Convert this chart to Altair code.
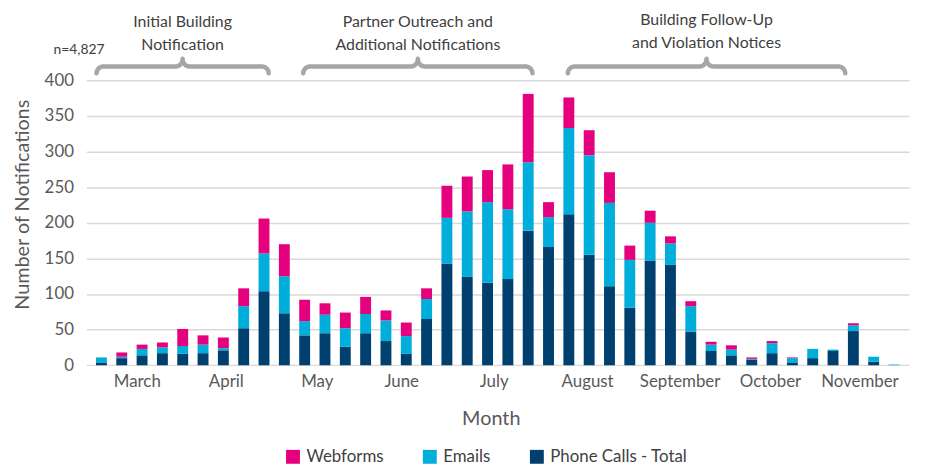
import math
import altair as alt
import pandas as pd

# ---- data (weekly notifications) ----
weeks = list(range(1, 41))
phone_calls = [4, 10, 14, 17, 16, 17, 21, 52, 104, 73,
               42, 45, 26, 45, 34, 16, 65, 143, 124, 116,
               121, 189, 166, 212, 155, 111, 81, 147, 141, 47,
               20, 14, 8, 17, 4, 10, 20, 48, 5, 0]
emails = [7, 2, 9, 8, 11, 12, 3, 31, 53, 52,
          20, 26, 26, 27, 29, 25, 28, 64, 92, 113,
          98, 96, 42, 121, 140, 117, 67, 53, 30, 36,
          9, 8, 1, 14, 6, 13, 2, 8, 7, 1]
webforms = [0, 6, 6, 7, 24, 13, 15, 25, 49, 45,
            30, 16, 22, 24, 14, 19, 15, 45, 49, 45,
            63, 96, 21, 43, 35, 43, 20, 17, 10, 7,
            4, 6, 2, 3, 1, 0, 0, 3, 0, 0]

series_names = ["Webforms", "Emails", "Phone Calls - Total"]
series_colors = ["#E5007D", "#00AEDB", "#00406E"]

month_names = ["March", "April", "May", "June", "July", "August",
               "September", "October", "November"]
month_positions = [2.74, 7.12, 11.6, 15.75, 20.3, 24.9, 29.45, 33.9, 38.3]

y_ticks = [0, 50, 100, 150, 200, 250, 300, 350, 400]

# phase annotations (brace spans in week units)
brace_start = [0.76, 10.93, 23.95]
brace_end = [9.23, 22.21, 37.6]
phase_line1 = ["Initial Building", "Partner Outreach and", "Building Follow-Up"]
phase_line2 = ["Notification", "Additional Notifications", "and Violation Notices"]
phase_y1 = [482, 482, 485]
phase_y2 = [449, 449, 452]
total_note = "n=4,827"

FONT = "Lato"
LABEL_COLOR = "#595959"
TEXT_COLOR = "#404040"

# ---- tables ----
rows = []
for i, w in enumerate(weeks):
    rows.append({"week": w, "series": "Phone Calls - Total", "value": phone_calls[i], "ord": 0})
    rows.append({"week": w, "series": "Emails", "value": emails[i], "ord": 1})
    rows.append({"week": w, "series": "Webforms", "value": webforms[i], "ord": 2})
bars_df = pd.DataFrame(rows)

# brace shapes
y_mid, ry_end, ry_tip, rx = 419.5, 9.7, 11.0, 0.34
brace_rows = []
for k, (a, b) in enumerate(zip(brace_start, brace_end)):
    c = (a + b) / 2
    half = []
    for t in range(0, 91, 10):
        r = math.radians(t)
        half.append((a + rx - rx * math.cos(r), y_mid - ry_end + ry_end * math.sin(r)))
    for t in range(0, 91, 10):
        r = math.radians(t)
        half.append((c - rx + rx * math.sin(r), y_mid + ry_tip - ry_tip * math.cos(r)))
    pts = half + [(a + b - x, y) for (x, y) in reversed(half)]
    for j, (x, y) in enumerate(pts):
        brace_rows.append({"brace": k, "i": j, "week": x, "value": y})
brace_df = pd.DataFrame(brace_rows)

text_rows = []
for k in range(len(brace_start)):
    c = (brace_start[k] + brace_end[k]) / 2
    text_rows.append({"week": c, "value": phase_y1[k], "t": phase_line1[k]})
    text_rows.append({"week": c, "value": phase_y2[k], "t": phase_line2[k]})
text_df = pd.DataFrame(text_rows)
note_df = pd.DataFrame([{"week": -0.1, "value": 442, "t": total_note}])

x_scale = alt.Scale(domain=[0.5, 40.5], nice=False, zero=False)
y_scale = alt.Scale(domain=[0, 400], nice=False)

label_expr = "{}[indexof({}, datum.value)]".format(
    "[" + ",".join("'%s'" % m for m in month_names) + "]",
    "[" + ",".join(str(p) for p in month_positions) + "]",
)

x_axis = alt.Axis(values=month_positions, labelExpr=label_expr, title="Month",
                  grid=False, domain=False, ticks=False, labelPadding=8,
                  labelFontSize=17, labelColor=LABEL_COLOR, labelFont=FONT,
                  titleFontSize=20, titleColor=LABEL_COLOR, titleFont=FONT,
                  titleFontWeight="normal", titleX=408, titleY=54,
                  titleBaseline="middle", labelFlush=False, labelOverlap=False)
y_axis = alt.Axis(values=y_ticks, title="Number of Notifications", grid=True,
                  gridColor="#D9D9D9", gridWidth=1.5, domain=False, ticks=False,
                  labelPadding=13, labelFontSize=17, labelColor=LABEL_COLOR,
                  labelFont=FONT, titleFontSize=20, titleColor=LABEL_COLOR,
                  titleFont=FONT, titleFontWeight="normal", titleX=-64, titleY=125,
                  titleBaseline="middle", titleAlign="center")

X = alt.X("week:Q", scale=x_scale, axis=x_axis)
Y = alt.Y("value:Q", scale=y_scale, axis=y_axis)

bars = alt.Chart(bars_df).mark_bar(size=11).encode(
    x=X,
    y=alt.Y("value:Q", stack="zero", scale=y_scale, axis=y_axis),
    color=alt.Color("series:N",
                    scale=alt.Scale(domain=series_names, range=series_colors),
                    legend=alt.Legend(title=None, orient="none", direction="horizontal",
                                      legendX=200, legendY=371, symbolType="square",
                                      symbolSize=196, symbolStrokeWidth=0,
                                      labelFontSize=17, labelFont=FONT,
                                      labelColor=TEXT_COLOR, labelOffset=5,
                                      columnPadding=38)),
    order=alt.Order("ord:Q", sort="ascending"),
)

braces = alt.Chart(brace_df).mark_line(
    color="#A6A6A6", strokeWidth=4.5, strokeCap="round", strokeJoin="round"
).encode(x=X, y=Y, detail="brace:N", order="i:Q")

phase_text = alt.Chart(text_df).mark_text(
    font=FONT, fontSize=16, color=TEXT_COLOR, align="center", baseline="middle"
).encode(x=X, y=Y, text="t:N")

note_text = alt.Chart(note_df).mark_text(
    font=FONT, fontSize=14, color=TEXT_COLOR, align="center", baseline="middle"
).encode(x=X, y=Y, text="t:N")

chart = alt.layer(bars, braces, phase_text, note_text).properties(
    width=830, height=287.4,
    autosize=alt.AutoSizeParams(type="none"),
    padding={"left": 79, "top": 71, "right": 13, "bottom": 99},
).configure(background="white", view=alt.ViewConfig(strokeWidth=0))

chart.save("out.html", embed_options={"renderer": "svg", "actions": False})
